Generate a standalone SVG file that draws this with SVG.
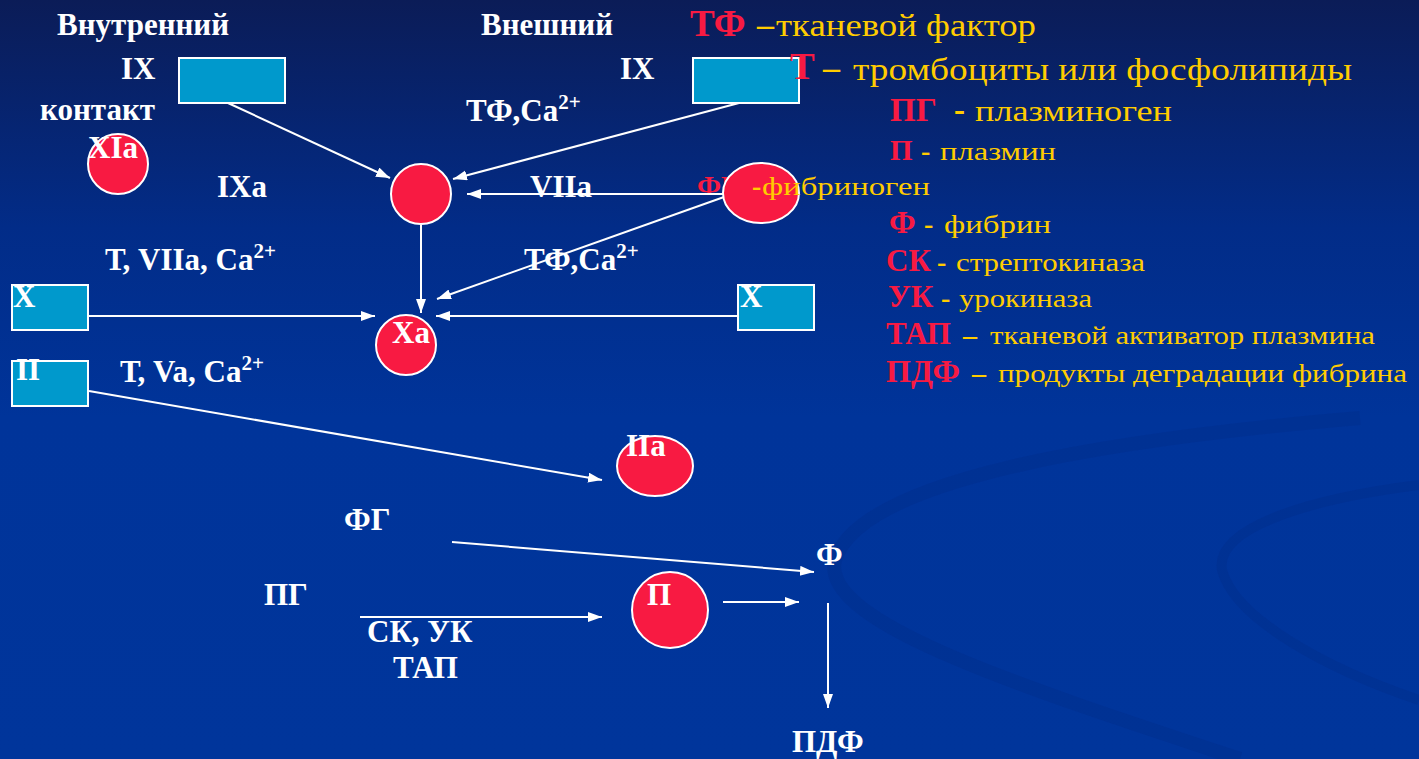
<svg xmlns="http://www.w3.org/2000/svg" width="1419" height="759" viewBox="0 0 1419 759">
<defs>
<linearGradient id="bg" x1="0" y1="0" x2="0" y2="1">
<stop offset="0" stop-color="#0b1c57"/>
<stop offset="0.3" stop-color="#022c88"/>
<stop offset="0.55" stop-color="#00349a"/>
<stop offset="1" stop-color="#00359b"/>
</linearGradient>
<marker id="arr" markerUnits="userSpaceOnUse" markerWidth="16" markerHeight="12" refX="14" refY="5" orient="auto">
<path d="M0,0 L14,5 L0,10 z" fill="#ffffff"/>
</marker>
<style>
.lbl{font-family:"Liberation Serif","Times New Roman",serif;font-weight:bold;font-size:31px;fill:#ffffff}
.sup{font-size:21px}
.box{fill:#0099cc;stroke:#ffffff;stroke-width:2}
.dot{fill:#f81a42;stroke:#ffffff;stroke-width:2}
.con{stroke:#ffffff;stroke-width:2;fill:none;marker-end:url(#arr)}
.red{font-family:"Liberation Serif","Times New Roman",serif;font-weight:bold;fill:#f81a42}
.dash{font-family:"Liberation Serif","Times New Roman",serif;font-weight:bold;fill:#ffcc00}
.yel{font-family:"Liberation Serif","Times New Roman",serif;fill:#ffcc00}
.swirl{fill:none;stroke:#002c85;stroke-opacity:0.3}
</style>
</defs>
<rect x="0" y="0" width="1419" height="759" fill="url(#bg)"/>
<g id="background-swirls">
<path class="swirl" stroke-width="14" d="M1360,418 C1100,440 860,480 835,560 C820,620 1000,680 1240,759"/>
<path class="swirl" stroke-width="10" d="M1419,485 C1300,500 1215,530 1222,570 C1235,620 1330,670 1419,700"/>
</g>
<text class="red" x="697" y="195" font-size="28">ФГ</text>
<g id="connectors">
<line class="con" x1="228" y1="103" x2="390" y2="178"/>
<line class="con" x1="739" y1="103" x2="453" y2="179"/>
<line class="con" x1="723" y1="194" x2="467" y2="194"/>
<line class="con" x1="724" y1="197" x2="437" y2="299"/>
<line class="con" x1="421" y1="225" x2="421" y2="313"/>
<line class="con" x1="88" y1="316" x2="375" y2="316"/>
<line class="con" x1="738" y1="316" x2="436" y2="316"/>
<line class="con" x1="89" y1="391" x2="602" y2="480"/>
<line class="con" x1="452" y1="542" x2="814" y2="572"/>
<line class="con" x1="360" y1="617" x2="602" y2="617"/>
<line class="con" x1="723" y1="602" x2="799" y2="602"/>
<line class="con" x1="828" y1="603" x2="828" y2="708"/>
</g>
<g id="header-labels">
<text class="lbl" x="57" y="35">Внутренний</text>
<text class="lbl" x="481" y="35">Внешний</text>
<text class="lbl" x="40" y="120">контакт</text>
<text class="lbl" x="217" y="197">IXa</text>
<text class="lbl" x="466" y="121">ТФ,Ca<tspan class="sup" dy="-12">2+</tspan></text>
<text class="lbl" x="530" y="197">VIIa</text>
<text class="lbl" x="105" y="270">Т, VIIa, Ca<tspan class="sup" dy="-12">2+</tspan></text>
<text class="lbl" x="524" y="270">ТФ,Ca<tspan class="sup" dy="-12">2+</tspan></text>
<text class="lbl" x="120" y="382">Т, Va, Ca<tspan class="sup" dy="-12">2+</tspan></text>
<text class="lbl" x="344" y="530">ФГ</text>
<text class="lbl" x="264" y="605">ПГ</text>
<text class="lbl" x="367" y="642">СК, УК</text>
<text class="lbl" x="393" y="678">ТАП</text>
</g>
<g id="node-IX-intrinsic">
<rect class="box" x="179" y="58" width="106" height="45"/>
<text class="lbl" x="121" y="79">IX</text>
</g>
<g id="node-IX-extrinsic">
<rect class="box" x="693" y="58" width="106" height="45"/>
<text class="lbl" x="620" y="79">IX</text>
</g>
<g id="node-XIa">
<ellipse class="dot" cx="118" cy="164" rx="30" ry="30"/>
<text class="lbl" x="88" y="158">XIa</text>
</g>
<g id="node-IXa">
<ellipse class="dot" cx="421" cy="194" rx="30" ry="30"/>
</g>
<g id="node-FG">
<ellipse class="dot" cx="761" cy="193" rx="38" ry="30"/>
</g>
<g id="node-X-left">
<rect class="box" x="12" y="285" width="76" height="45"/>
<text class="lbl" x="13" y="307">X</text>
</g>
<g id="node-X-right">
<rect class="box" x="738" y="285" width="76" height="45"/>
<text class="lbl" x="740" y="307">X</text>
</g>
<g id="node-Xa">
<ellipse class="dot" cx="406" cy="345" rx="30" ry="30"/>
<text class="lbl" x="392" y="343">Xa</text>
</g>
<g id="node-II">
<rect class="box" x="12" y="361" width="76" height="45"/>
<text class="lbl" x="16" y="380">II</text>
</g>
<g id="node-IIa">
<ellipse class="dot" cx="655" cy="466" rx="38" ry="30"/>
<text class="lbl" x="626" y="456">IIa</text>
</g>
<g id="node-P">
<ellipse class="dot" cx="670" cy="610" rx="38" ry="38"/>
<text class="lbl" x="647" y="605">П</text>
</g>
<g id="node-F">
<text class="lbl" x="816" y="565">Ф</text>
</g>
<g id="node-PDF">
<text class="lbl" x="792" y="752">ПДФ</text>
</g>
<g id="legend">
<text class="red" x="690" y="36" font-size="37">ТФ</text>
<text class="dash" x="757" y="36" font-size="34">–</text>
<text class="yel" x="776" y="36" font-size="32" textLength="260" lengthAdjust="spacingAndGlyphs">тканевой фактор</text>
<text class="red" x="790" y="79" font-size="37">Т</text>
<text class="dash" x="823" y="79" font-size="34">–</text>
<text class="yel" x="853" y="80" font-size="32" textLength="499" lengthAdjust="spacingAndGlyphs">тромбоциты или фосфолипиды</text>
<text class="red" x="890" y="121" font-size="33">ПГ</text>
<text class="dash" x="954" y="121" font-size="33">-</text>
<text class="yel" x="975" y="121" font-size="29" textLength="197" lengthAdjust="spacingAndGlyphs">плазминоген</text>
<text class="red" x="890" y="160" font-size="29">П</text>
<text class="dash" x="921" y="160" font-size="28">-</text>
<text class="yel" x="940" y="160" font-size="25" textLength="116" lengthAdjust="spacingAndGlyphs">плазмин</text>
<text class="dash" x="752" y="195" font-size="28">-</text>
<text class="yel" x="762" y="195" font-size="25" textLength="168" lengthAdjust="spacingAndGlyphs">фибриноген</text>
<text class="red" x="889" y="233" font-size="31">Ф</text>
<text class="dash" x="924" y="233" font-size="28">-</text>
<text class="yel" x="944" y="233" font-size="25" textLength="107" lengthAdjust="spacingAndGlyphs">фибрин</text>
<text class="red" x="886" y="271" font-size="31">СК</text>
<text class="dash" x="937" y="271" font-size="28">-</text>
<text class="yel" x="956" y="271" font-size="25" textLength="189" lengthAdjust="spacingAndGlyphs">стрептокиназа</text>
<text class="red" x="888" y="307" font-size="31">УК</text>
<text class="dash" x="941" y="307" font-size="28">-</text>
<text class="yel" x="959" y="307" font-size="25" textLength="133" lengthAdjust="spacingAndGlyphs">урокиназа</text>
<text class="red" x="886" y="344" font-size="31">ТАП</text>
<text class="dash" x="963" y="344" font-size="28">–</text>
<text class="yel" x="990" y="344" font-size="25" textLength="385" lengthAdjust="spacingAndGlyphs">тканевой активатор плазмина</text>
<text class="red" x="886" y="382" font-size="32">ПДФ</text>
<text class="dash" x="972" y="382" font-size="28">–</text>
<text class="yel" x="998" y="382" font-size="25" textLength="409" lengthAdjust="spacingAndGlyphs">продукты деградации фибрина</text>
</g>
</svg>
